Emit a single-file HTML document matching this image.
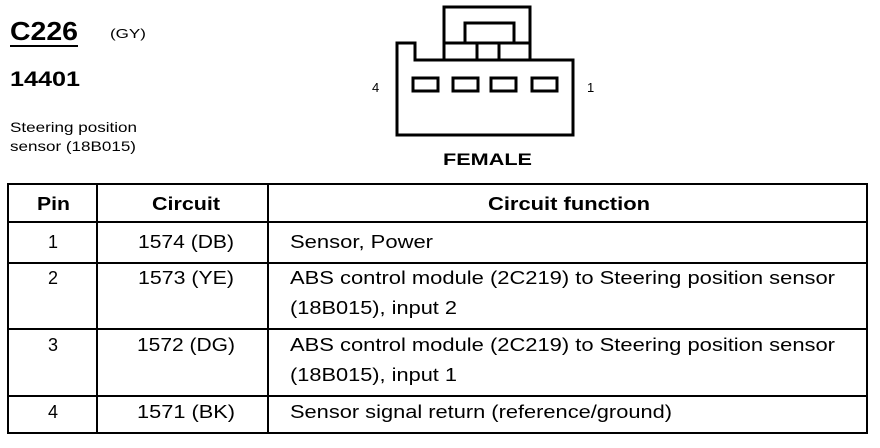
<!DOCTYPE html>
<html><head><style>
html,body{margin:0;padding:0;background:#fff;}
svg{display:block;font-family:"Liberation Sans",sans-serif;}
</style></head><body>
<svg width="880" height="448" viewBox="0 0 880 448">
<rect width="880" height="448" fill="#fff"/>
<text x="10" y="40" font-size="26" font-weight="bold" textLength="68" lengthAdjust="spacingAndGlyphs">C226</text>
<line x1="10" y1="46" x2="78" y2="46" stroke="#000" stroke-width="2"/>
<text x="110" y="38" font-size="13" textLength="36" lengthAdjust="spacingAndGlyphs">(GY)</text>
<text x="10" y="86" font-size="21" font-weight="bold" textLength="70" lengthAdjust="spacingAndGlyphs">14401</text>
<text x="10" y="132" font-size="14" textLength="127" lengthAdjust="spacingAndGlyphs">Steering position</text>
<text x="10" y="151" font-size="14" textLength="126" lengthAdjust="spacingAndGlyphs">sensor (18B015)</text>
<g fill="none" stroke="#000" stroke-width="3">
<path d="M397,43 H415 V60 H573 V135 H397 Z"/>
<rect x="444" y="7" width="86" height="53"/>
<path d="M465,43 V23 H514 V43"/>
<line x1="444" y1="43" x2="530" y2="43"/>
<line x1="477" y1="43" x2="477" y2="60"/>
<line x1="499" y1="43" x2="499" y2="60"/>
<rect x="413" y="78" width="25" height="13"/>
<rect x="453" y="78" width="25" height="13"/>
<rect x="491" y="78" width="25" height="13"/>
<rect x="532" y="78" width="25" height="13"/>
</g>
<text x="372" y="92" font-size="13">4</text>
<text x="587" y="92" font-size="13">1</text>
<text x="443" y="165" font-size="17" font-weight="bold" textLength="89" lengthAdjust="spacingAndGlyphs">FEMALE</text>
<g stroke="#000" stroke-width="2" fill="none">
<rect x="8" y="184" width="859" height="249"/>
<line x1="8" y1="222" x2="867" y2="222"/>
<line x1="8" y1="263" x2="867" y2="263"/>
<line x1="8" y1="329" x2="867" y2="329"/>
<line x1="8" y1="396" x2="867" y2="396"/>
<line x1="97" y1="184" x2="97" y2="433"/>
<line x1="268" y1="184" x2="268" y2="433"/>
</g>
<g font-size="18" font-weight="bold" lengthAdjust="spacingAndGlyphs">
<text x="37" y="210" textLength="33" lengthAdjust="spacingAndGlyphs">Pin</text>
<text x="152" y="210" textLength="68" lengthAdjust="spacingAndGlyphs">Circuit</text>
<text x="488" y="210" textLength="162" lengthAdjust="spacingAndGlyphs">Circuit function</text>
</g>
<g font-size="18">
<text x="48" y="248">1</text><text x="138" y="248" textLength="96" lengthAdjust="spacingAndGlyphs">1574 (DB)</text>
<text x="48" y="284">2</text><text x="138" y="284" textLength="96" lengthAdjust="spacingAndGlyphs">1573 (YE)</text>
<text x="48" y="351">3</text><text x="137" y="351" textLength="98" lengthAdjust="spacingAndGlyphs">1572 (DG)</text>
<text x="48" y="418">4</text><text x="137" y="418" textLength="98" lengthAdjust="spacingAndGlyphs">1571 (BK)</text>
</g>
<g font-size="18">
<text x="290" y="248" textLength="143" lengthAdjust="spacingAndGlyphs">Sensor, Power</text>
<text x="290" y="284" textLength="545" lengthAdjust="spacingAndGlyphs">ABS control module (2C219) to Steering position sensor</text>
<text x="290" y="314" textLength="167" lengthAdjust="spacingAndGlyphs">(18B015), input 2</text>
<text x="290" y="351" textLength="545" lengthAdjust="spacingAndGlyphs">ABS control module (2C219) to Steering position sensor</text>
<text x="290" y="381" textLength="167" lengthAdjust="spacingAndGlyphs">(18B015), input 1</text>
<text x="290" y="418" textLength="382" lengthAdjust="spacingAndGlyphs">Sensor signal return (reference/ground)</text>
</g>
</svg>
</body></html>
